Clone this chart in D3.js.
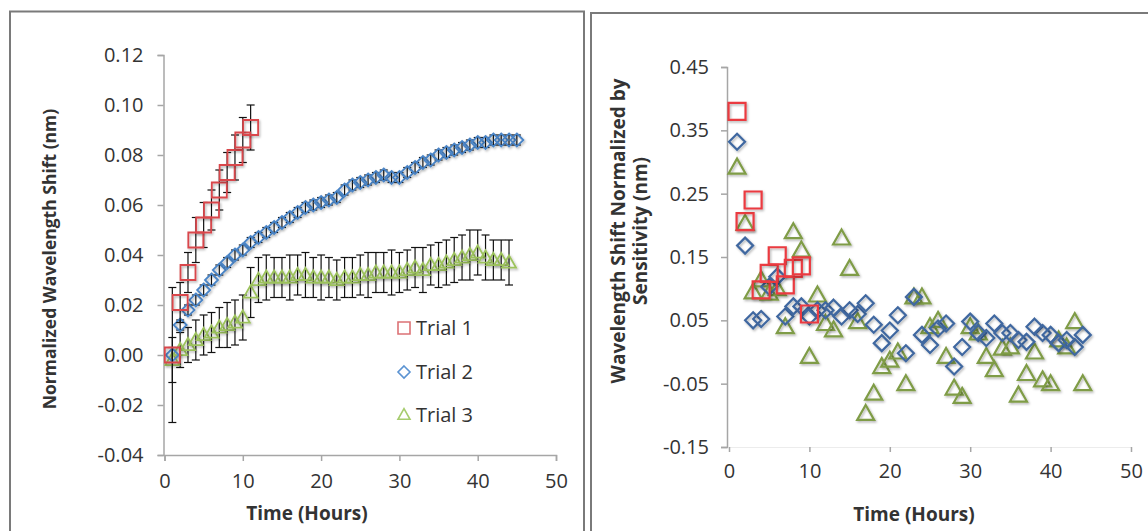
<!DOCTYPE html>
<html>
<head>
<meta charset="utf-8">
<script src="https://cdn.jsdelivr.net/npm/d3@7/dist/d3.min.js"></script>
<style>
  html, body { margin: 0; padding: 0; background: #fff; }
  svg { display: block; }
  text { font-family: "Open Sans", "Liberation Sans", sans-serif; fill: #333; }
</style>
</head>
<body>
<svg id="chart" width="1148" height="531"></svg>
<script>
// ---- Panel A: normalized wavelength shift with standard-deviation error bars ----
const trial1Hours = [1, 2, 3, 4, 5, 6, 7, 8, 9, 10, 11];
const trial1Shift = [0.000, 0.021, 0.033, 0.046, 0.052, 0.058, 0.066, 0.073, 0.079, 0.086, 0.091];
const trial1Err   = [0.027, 0.008, 0.008, 0.009, 0.009, 0.008, 0.008, 0.008, 0.009, 0.009, 0.009];

const trial2Hours = d3.range(1, 46);
const trial2Shift = [0.000, 0.012, 0.018, 0.022, 0.026, 0.030, 0.034, 0.037, 0.040, 0.042,
                     0.045, 0.047, 0.049, 0.051, 0.053, 0.055, 0.057, 0.059, 0.060, 0.061,
                     0.062, 0.063, 0.066, 0.068, 0.069, 0.070, 0.071, 0.072, 0.071, 0.071,
                     0.073, 0.075, 0.077, 0.078, 0.080, 0.081, 0.082, 0.083, 0.084, 0.085,
                     0.085, 0.086, 0.086, 0.086, 0.086];
const trial2Err   = [0.003, 0.002, 0.002, 0.002, 0.002, 0.002, 0.002, 0.002, 0.002, 0.002,
                     0.002, 0.002, 0.002, 0.002, 0.002, 0.002, 0.002, 0.002, 0.002, 0.002,
                     0.002, 0.002, 0.002, 0.002, 0.002, 0.002, 0.002, 0.002, 0.002, 0.002,
                     0.002, 0.002, 0.002, 0.002, 0.002, 0.002, 0.002, 0.002, 0.002, 0.002,
                     0.002, 0.002, 0.002, 0.002, 0.002];

const trial3Hours = d3.range(1, 45);
const trial3Shift = [-0.002, 0.002, 0.004, 0.006, 0.008, 0.009, 0.011, 0.012, 0.013, 0.015,
                     0.025, 0.030, 0.031, 0.031, 0.031, 0.031, 0.032, 0.032, 0.031, 0.031,
                     0.031, 0.030, 0.031, 0.031, 0.032, 0.032, 0.033, 0.033, 0.033, 0.033,
                     0.034, 0.035, 0.034, 0.036, 0.036, 0.037, 0.038, 0.039, 0.040, 0.041,
                     0.039, 0.038, 0.038, 0.037];
const trial3Err   = [0.009, 0.007, 0.007, 0.008, 0.008, 0.008, 0.008, 0.009, 0.009, 0.009,
                     0.010, 0.009, 0.009, 0.008, 0.008, 0.009, 0.008, 0.009, 0.008, 0.009,
                     0.008, 0.008, 0.008, 0.008, 0.008, 0.009, 0.008, 0.008, 0.009, 0.008,
                     0.008, 0.008, 0.009, 0.008, 0.009, 0.009, 0.009, 0.009, 0.010, 0.009,
                     0.009, 0.008, 0.008, 0.009];

const leftYTicks = [-0.04, -0.02, 0.00, 0.02, 0.04, 0.06, 0.08, 0.10, 0.12];
const xTicks = [0, 10, 20, 30, 40, 50];
const legendLabels = ["Trial 1", "Trial 2", "Trial 3"];

// ---- Panel B: shift normalized by sensor sensitivity ----
const sens1Hours = [1, 2, 3, 4, 5, 6, 7, 8, 9, 10];
const sens1Shift = [0.380, 0.206, 0.240, 0.098, 0.124, 0.152, 0.106, 0.132, 0.136, 0.060];

const sens2Hours = d3.range(1, 45);
const sens2Shift = [0.332, 0.168, 0.050, 0.052, 0.103, 0.119, 0.056, 0.072, 0.072, 0.056,
                    0.066, 0.066, 0.070, 0.056, 0.066, 0.060, 0.077, 0.043, 0.014, 0.034,
                    0.058, -0.002, 0.087, 0.027, 0.011, 0.037, 0.045, -0.023, 0.008, 0.048,
                    0.030, 0.022, 0.045, 0.030, 0.030, 0.019, 0.016, 0.040, 0.030, 0.027,
                    0.014, 0.019, 0.008, 0.027];

const sens3Hours = d3.range(1, 45);
const sens3Shift = [0.292, 0.203, 0.095, 0.114, 0.093, 0.100, 0.040, 0.190, 0.161, -0.007,
                    0.090, 0.045, 0.035, 0.180, 0.132, 0.048, -0.097, -0.065, -0.023, -0.013,
                    0.000, -0.050, 0.087, 0.087, 0.040, 0.050, -0.007, -0.057, -0.070, 0.040,
                    0.030, -0.007, -0.028, 0.006, 0.008, -0.068, -0.034, 0.000, -0.044, -0.050,
                    0.019, 0.008, 0.048, -0.050];

const rightYTicks = [-0.15, -0.05, 0.05, 0.15, 0.25, 0.35, 0.45];

const svg = d3.select("#chart");

// soft drop shadow used by every marker
const defs = svg.append("defs");
const shadow = defs.append("filter").attr("id", "shadow")
  .attr("x", "-50%").attr("y", "-50%").attr("width", "200%").attr("height", "200%");
shadow.append("feDropShadow").attr("dx", 1.2).attr("dy", 1.5).attr("stdDeviation", 1)
  .attr("flood-color", "#000").attr("flood-opacity", 0.3);

// panel frames
svg.append("rect").attr("x", 10).attr("y", 11.5).attr("width", 574).attr("height", 540)
  .attr("fill", "none").attr("stroke", "#7a7a7a").attr("stroke-width", 2);
svg.append("rect").attr("x", 591).attr("y", 13).attr("width", 580).attr("height", 540)
  .attr("fill", "none").attr("stroke", "#7a7a7a").attr("stroke-width", 2);

const axisColor = "#a6a6a6";
const tickFont = 20;
const minusFmt = d => d3.format(".2f")(d).replace("−", "-");

// marker shapes
function markerPath(shape, s) {
  const h = s / 2;
  if (shape === "square") return `M${-h},${-h}H${h}V${h}H${-h}Z`;
  if (shape === "diamond") return `M0,${-h}L${h},0L0,${h}L${-h},0Z`;
  const th = s * 0.88;
  return `M0,${-th / 2 - 1}L${h},${th / 2 - 1}L${-h},${th / 2 - 1}Z`;
}

function zipSeries(hours, vals, errs) {
  return hours.map((t, i) => ({ t, v: vals[i], e: errs ? errs[i] : 0 }));
}

// ================= Panel A =================
const xA = d3.scaleLinear().domain([0, 50]).range([164.5, 556]);
const yA = d3.scaleLinear().domain([-0.04, 0.12]).range([455, 55]);

const gA = svg.append("g");

// y axis
const yAxisA = gA.append("g").attr("transform", `translate(${xA(0) - 1},0)`)
  .call(d3.axisLeft(yA).tickValues(leftYTicks).tickSize(6).tickPadding(14).tickFormat(minusFmt));
yAxisA.select(".domain").attr("stroke", axisColor).attr("stroke-width", 1.5);
yAxisA.selectAll(".tick line").attr("stroke", axisColor).attr("stroke-width", 1.5);
yAxisA.selectAll(".tick text").attr("font-size", tickFont).attr("font-family", null);

// x axis
const xAxisA = gA.append("g").attr("transform", `translate(0,${yA(-0.04)})`)
  .call(d3.axisBottom(xA).tickValues(xTicks).tickSize(6).tickPadding(13));
xAxisA.select(".domain").attr("stroke", axisColor).attr("stroke-width", 1.5);
xAxisA.selectAll(".tick line").attr("stroke", axisColor).attr("stroke-width", 1.5);
xAxisA.selectAll(".tick text").attr("font-size", tickFont).attr("font-family", null);

gA.append("text").attr("x", 307).attr("y", 520).attr("text-anchor", "middle")
  .attr("font-size", 19).attr("font-weight", "bold").text("Time (Hours)");
gA.append("text").attr("transform", "translate(50,259) rotate(-90)")
  .attr("text-anchor", "middle").attr("dy", "0.35em").attr("font-size", 17.5).attr("font-weight", "bold")
  .text("Normalized Wavelength Shift (nm)");

const seriesA = [
  { data: zipSeries(trial1Hours, trial1Shift, trial1Err), shape: "square", color: "#d9474c", size: 15 },
  { data: zipSeries(trial2Hours, trial2Shift, trial2Err), shape: "diamond", color: "#4a84c6", size: 13 },
  { data: zipSeries(trial3Hours, trial3Shift, trial3Err), shape: "triangle", color: "#9cc25c", size: 14 }
];

// draw each series: error bars then markers
seriesA.slice().reverse().forEach(s => {
  const g = gA.append("g");
  const eb = g.selectAll("g.eb").data(s.data).join("g").attr("class", "eb");
  eb.append("line")
    .attr("x1", d => xA(d.t)).attr("x2", d => xA(d.t))
    .attr("y1", d => yA(d.v - d.e)).attr("y2", d => yA(d.v + d.e))
    .attr("stroke", "#111").attr("stroke-width", 1.2);
  [-1, 1].forEach(sign => {
    eb.append("line")
      .attr("x1", d => xA(d.t) - 4).attr("x2", d => xA(d.t) + 4)
      .attr("y1", d => yA(d.v + sign * d.e)).attr("y2", d => yA(d.v + sign * d.e))
      .attr("stroke", "#111").attr("stroke-width", 1.2);
  });
  g.selectAll("path.m").data(s.data).join("path").attr("class", "m")
    .attr("d", markerPath(s.shape, s.size))
    .attr("transform", d => `translate(${xA(d.t)},${yA(d.v)})`)
    .attr("fill", "none").attr("stroke", s.color).attr("stroke-width", 1.8)
    .attr("filter", "url(#shadow)");
});

// legend
const legendY = [328, 372, 415];
const legendColors = ["#dc7275", "#5b93d2", "#a6cc6e"];
const legendShapes = ["square", "diamond", "triangle"];
legendLabels.forEach((lab, i) => {
  gA.append("path").attr("d", markerPath(legendShapes[i], 12))
    .attr("transform", `translate(404,${legendY[i]})`)
    .attr("fill", "none").attr("stroke", legendColors[i]).attr("stroke-width", 1.6);
  gA.append("text").attr("x", 416).attr("y", legendY[i]).attr("dy", "0.35em")
    .attr("font-size", 20).text(lab);
});

// ================= Panel B =================
const xB = d3.scaleLinear().domain([0, 50]).range([729, 1131]);
const yB = d3.scaleLinear().domain([-0.15, 0.45]).range([447, 67]);

const gB = svg.append("g");
const yAxisB = gB.append("g").attr("transform", `translate(${xB(0) - 2},0)`)
  .call(d3.axisLeft(yB).tickValues(rightYTicks).tickSize(6).tickPadding(12).tickFormat(minusFmt));
yAxisB.select(".domain").attr("stroke", axisColor).attr("stroke-width", 1.5);
yAxisB.selectAll(".tick line").attr("stroke", axisColor).attr("stroke-width", 1.5);
yAxisB.selectAll(".tick text").attr("font-size", tickFont).attr("font-family", null);

const xAxisB = gB.append("g").attr("transform", `translate(0,${yB(-0.15)})`)
  .call(d3.axisBottom(xB).tickValues(xTicks).tickSize(5).tickPadding(12));
xAxisB.select(".domain").attr("stroke", "#ececec").attr("stroke-width", 1);
xAxisB.selectAll(".tick line").attr("stroke", axisColor).attr("stroke-width", 1.5);
xAxisB.selectAll(".tick text").attr("font-size", tickFont).attr("font-family", null);

gB.append("text").attr("x", 914).attr("y", 521).attr("text-anchor", "middle")
  .attr("font-size", 19).attr("font-weight", "bold").text("Time (Hours)");
gB.append("text").attr("transform", "translate(618,231) rotate(-90)")
  .attr("text-anchor", "middle").attr("dy", "0.35em").attr("font-size", 19).attr("font-weight", "bold")
  .text("Wavelength Shift Normalized by");
gB.append("text").attr("transform", "translate(640,231) rotate(-90)")
  .attr("text-anchor", "middle").attr("dy", "0.35em").attr("font-size", 19).attr("font-weight", "bold")
  .text("Sensitivity (nm)");

const seriesB = [
  { data: zipSeries(sens3Hours, sens3Shift), shape: "triangle", color: "#7f9c46", size: 17 },
  { data: zipSeries(sens2Hours, sens2Shift), shape: "diamond", color: "#3f67a0", size: 16 },
  { data: zipSeries(sens1Hours, sens1Shift), shape: "square", color: "#ea3a40", size: 17 }
];
seriesB.forEach(s => {
  gB.append("g").selectAll("path").data(s.data).join("path")
    .attr("d", markerPath(s.shape, s.size))
    .attr("transform", d => `translate(${xB(d.t)},${yB(d.v)})`)
    .attr("fill", "none").attr("stroke", s.color).attr("stroke-width", 2.2)
    .attr("filter", "url(#shadow)");
});
</script>
</body>
</html>
